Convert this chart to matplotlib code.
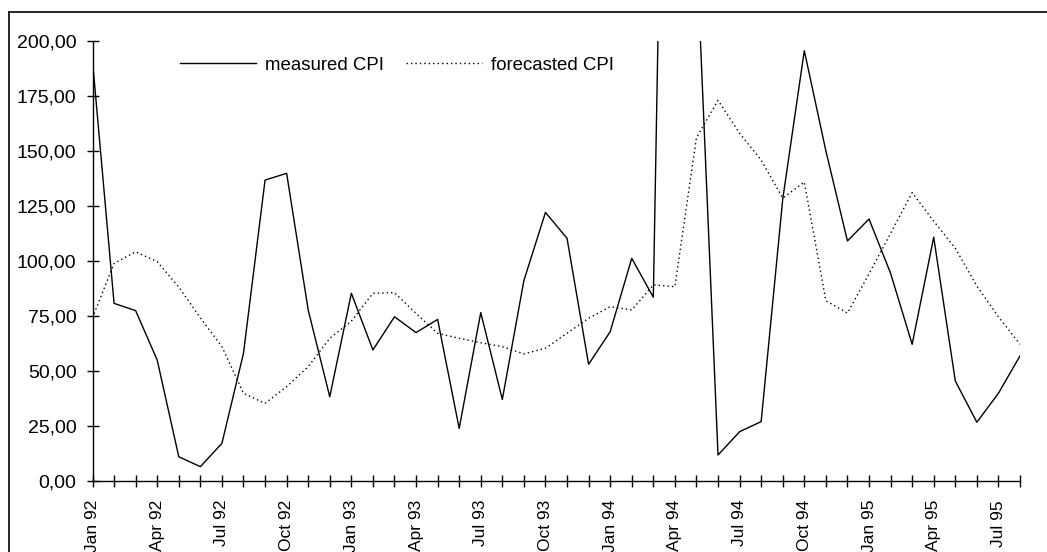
import numpy as np
import matplotlib
matplotlib.use("Agg")
import matplotlib.pyplot as plt
from matplotlib.lines import Line2D

plt.rcParams['font.family'] = ['Liberation Sans', 'DejaVu Sans']

# monthly CPI, Jan 92 .. Aug 95
measured_cpi = [
    191.0, 80.6, 77.3, 54.8, 10.8, 6.3, 16.9, 57.9, 136.7, 139.8, 77.6, 38.1,
    85.2, 59.4, 74.5, 67.3, 73.3, 23.7, 76.4, 36.9, 91.0, 122.0, 110.2, 52.9,
    67.7, 101.1, 83.4, 630.0, 243.0, 11.6, 22.2, 26.8, 128.0, 195.6, 150.0, 109.0,
    119.0, 94.3, 62.0, 110.7, 45.3, 26.5, 39.7, 56.7,
]
forecasted_cpi = [
    74.0, 98.8, 104.1, 99.6, 88.0, 74.0, 60.9, 39.7, 35.1, 42.7, 51.8, 64.7,
    72.5, 85.2, 85.5, 76.0, 67.0, 64.7, 62.7, 60.9, 57.6, 60.2, 67.0, 73.8,
    79.1, 77.6, 89.0, 88.2, 156.0, 173.0, 158.0, 145.8, 128.5, 135.8, 81.8, 76.2,
    94.0, 112.5, 131.0, 118.0, 105.7, 88.5, 74.5, 62.0,
]
quarter_labels = [
    'Jan 92', 'Apr 92', 'Jul 92', 'Oct 92',
    'Jan 93', 'Apr 93', 'Jul 93', 'Oct 93',
    'Jan 94', 'Apr 94', 'Jul 94', 'Oct 94',
    'Jan 95', 'Apr 95', 'Jul 95',
]
y_ticks = [0, 25, 50, 75, 100, 125, 150, 175, 200]

W, H = 1047, 552
fig = plt.figure(figsize=(W / 100, H / 100), dpi=100)
fig.patch.set_facecolor('white')
ax = fig.add_axes([92.5 / W, 1 - 480.5 / H, (1020 - 92.5) / W, (480.5 - 41) / H])

months = np.arange(len(measured_cpi))
ax.plot(months, measured_cpi, color='black', lw=1.0, label='measured CPI')
ax.plot(months, forecasted_cpi, color='black', lw=1.0,
        linestyle=(0, (1.0, 2.2)), label='forecasted CPI')

ax.set_xlim(0, len(measured_cpi) - 1)
ax.set_ylim(0, 200)

ax.set_yticks(y_ticks)
ax.set_yticklabels([f"{v:.2f}".replace('.', ',') for v in y_ticks], fontsize=14)
ax.set_xticks(months)
labels = [''] * len(months)
for k, lab in enumerate(quarter_labels):
    labels[3 * k] = lab
ax.set_xticklabels(labels, rotation=90, fontsize=12.5)

ax.tick_params(axis='both', direction='inout', length=9, width=1.0, color='black')
ax.tick_params(axis='y', pad=7)
ax.tick_params(axis='x', pad=9.5)

for side in ('top', 'right'):
    ax.spines[side].set_visible(False)
for side in ('left', 'bottom'):
    ax.spines[side].set_linewidth(1.0)

leg = ax.legend(loc='center left', bbox_to_anchor=(180 / W, 1 - 65 / H),
                bbox_transform=fig.transFigure, ncol=2, frameon=False,
                fontsize=13.4, handlelength=4.1, handletextpad=0.45,
                columnspacing=1.2, borderpad=0, borderaxespad=0)

# outer border of the sheet
fig.add_artist(Line2D([8.5 / W, 8.5 / W], [0, 1 - 11.5 / H], color='black', lw=1.2))
fig.add_artist(Line2D([8.5 / W, 1], [1 - 11.5 / H, 1 - 11.5 / H], color='black', lw=1.2))

fig.savefig('out.png', dpi=100)
